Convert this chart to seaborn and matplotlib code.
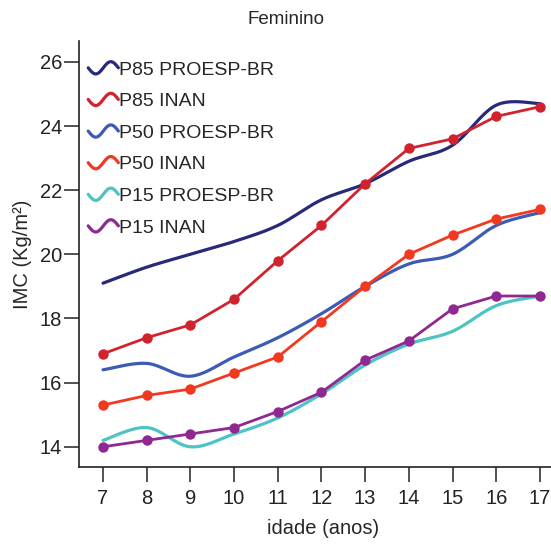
import numpy as np
import pandas as pd
import matplotlib
matplotlib.use("Agg")
import matplotlib.pyplot as plt
from matplotlib.legend_handler import HandlerBase
from matplotlib.lines import Line2D
import seaborn as sns

# data (IMC by age, girls)
idade = [7, 8, 9, 10, 11, 12, 13, 14, 15, 16, 17]
p85_proesp = [19.1, 19.6, 20.0, 20.4, 20.9, 21.7, 22.2, 22.9, 23.4, 24.65, 24.7]
p85_inan = [16.9, 17.4, 17.8, 18.6, 19.8, 20.9, 22.2, 23.3, 23.6, 24.3, 24.6]
p50_proesp = [16.4, 16.6, 16.2, 16.8, 17.4, 18.15, 19.0, 19.7, 20.0, 20.9, 21.3]
p50_inan = [15.3, 15.6, 15.8, 16.3, 16.8, 17.9, 19.0, 20.0, 20.6, 21.1, 21.4]
p15_proesp = [14.2, 14.6, 14.0, 14.4, 14.9, 15.65, 16.55, 17.2, 17.6, 18.4, 18.7]
p15_inan = [14.0, 14.2, 14.4, 14.6, 15.1, 15.7, 16.7, 17.3, 18.3, 18.7, 18.7]

labels = ["P85 PROESP-BR", "P85 INAN", "P50 PROESP-BR", "P50 INAN",
          "P15 PROESP-BR", "P15 INAN"]
colors = ["#27297a", "#d1232e", "#3c5bb7", "#f2381f", "#4dc3c4", "#8f2891"]


def smooth(x, y, n=20):
    # Excel-like smoothed line (Catmull-Rom as cubic bezier)
    x = np.asarray(x, float)
    y = np.asarray(y, float)
    px = np.concatenate([[x[0]], x, [x[-1]]])
    py = np.concatenate([[y[0]], y, [y[-1]]])
    t = np.linspace(0, 1, n)[:, None]
    xs, ys = [], []
    for i in range(1, len(px) - 2):
        p0 = np.array([px[i - 1], py[i - 1]])
        p1 = np.array([px[i], py[i]])
        p2 = np.array([px[i + 1], py[i + 1]])
        p3 = np.array([px[i + 2], py[i + 2]])
        b1 = p1 + (p2 - p0) / 6
        b2 = p2 - (p3 - p1) / 6
        pts = ((1 - t) ** 3) * p1 + 3 * ((1 - t) ** 2) * t * b1 \
            + 3 * (1 - t) * t ** 2 * b2 + t ** 3 * p2
        xs.extend(pts[:, 0])
        ys.extend(pts[:, 1])
    return np.array(xs), np.array(ys)


class WavyHandler(HandlerBase):
    def create_artists(self, legend, orig_handle, xdescent, ydescent,
                       width, height, fontsize, trans):
        t = np.linspace(0, 1, 40)
        xx = -xdescent + width * t
        yy = -ydescent + height * (0.5 - 0.45 * np.sin(2 * np.pi * t))
        ln = Line2D(xx, yy, color=orig_handle.get_color(),
                    lw=orig_handle.get_linewidth(), transform=trans)
        return [ln]


sns.set_style("ticks")
plt.rcParams["font.family"] = ["Liberation Sans", "DejaVu Sans"]

fig = plt.figure(figsize=(5.51, 5.44), dpi=100)
ax = fig.add_axes([79 / 551, 77 / 544, 488 / 551, 426 / 544])

series = [p85_proesp, p85_inan, p50_proesp, p50_inan, p15_proesp, p15_inan]
handles = []
for vals, lab, col in zip(series, labels, colors):
    if "PROESP" in lab:
        sx, sy = smooth(idade, vals)
        sns.lineplot(x=sx, y=sy, ax=ax, color=col, lw=2.3, sort=False,
                     estimator=None)
    else:
        sns.lineplot(x=idade, y=vals, ax=ax, color=col, lw=2.0,
                     marker="o", markersize=7.5, markeredgewidth=0,
                     estimator=None)
    handles.append(Line2D([], [], color=col, lw=2.3))

ax.set_xlim(6.45, 17.62)
ax.set_ylim(13.37, 26.65)
ax.set_xticks(idade)
ax.set_yticks([14, 16, 18, 20, 22, 24, 26])
ax.tick_params(axis="both", labelsize=14.5, length=11, width=1.1,
               colors="#222222", direction="out")
ax.tick_params(axis="y", pad=1)
ax.tick_params(axis="x", pad=5)
for s in ["left", "bottom"]:
    ax.spines[s].set_linewidth(1.2)
    ax.spines[s].set_color("#222222")
sns.despine(ax=ax)

ax.set_xlabel("idade (anos)", fontsize=14.5, labelpad=8)
ax.set_ylabel("IMC (Kg/m²)", fontsize=14.5, labelpad=6)
fig.text(286 / 551, 1 - 19 / 544, "Feminino", fontsize=13.5,
         ha="center", va="center")

leg = ax.legend(handles, labels, loc="upper left",
                bbox_to_anchor=(-0.009, 0.985), frameon=False, fontsize=14,
                handler_map={Line2D: WavyHandler()}, handlelength=1.55,
                handletextpad=0.05, labelspacing=0.72, borderpad=0.2)

fig.savefig("out.png", dpi=100, facecolor="white")
